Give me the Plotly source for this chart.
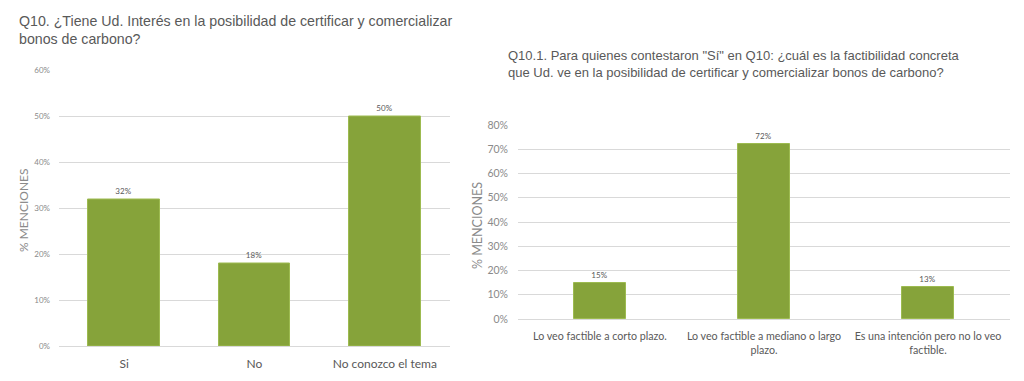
import plotly.graph_objects as go

# the page body has an 8px margin: the figure is sized to the rest of the window
OFF = 8
W, H = 1024 - OFF, 381 - OFF

# ---- data ----
cats_left = ["Si", "No", "No conozco el tema"]
vals_left = [32, 18, 50]
cats_right = ["Lo veo factible a corto plazo.",
              "Lo veo factible a mediano o largo<br>plazo.",
              "Es una intención pero no lo veo<br>factible."]
vals_right = [15, 72, 13]
ticks_left = [0, 10, 20, 30, 40, 50, 60]
ticks_right = [0, 10, 20, 30, 40, 50, 60, 70, 80]

title_left = "Q10. ¿Tiene Ud. Interés en la posibilidad de certificar y comercializar<br>bonos de carbono?"
title_right = ("Q10.1. Para quienes contestaron \"Sí\" en Q10: ¿cuál es la factibilidad concreta<br>"
               "que Ud. ve en la posibilidad de certificar y comercializar bonos de carbono?")

GREEN = "#86A33A"
GRID = "#d9d9d9"
TXT = "#595959"
LBL = "#8a8a8a"
FONT = "Lato"


def px(x):
    return (x - OFF) / W


def py(y):
    return 1 - (y - OFF) / H


fig = go.Figure()
fig.add_trace(go.Bar(x=cats_left, y=vals_left, xaxis="x", yaxis="y",
                     marker=dict(color=GREEN, line=dict(color="#9dbb50", width=1)),
                     width=0.55, text=[f"{v}%" for v in vals_left],
                     textposition="outside", cliponaxis=False,
                     textfont=dict(size=8, color=TXT, family=FONT)))
fig.add_trace(go.Bar(x=cats_right, y=vals_right, xaxis="x2", yaxis="y2",
                     marker=dict(color=GREEN, line=dict(color="#9dbb50", width=1)),
                     width=0.32, text=[f"{v}%" for v in vals_right],
                     textposition="outside", cliponaxis=False,
                     textfont=dict(size=8, color=TXT, family=FONT)))

fig.update_layout(
    template="none",
    width=W, height=H, autosize=False, margin=dict(l=0, r=0, t=0, b=0, pad=0),
    paper_bgcolor="white", plot_bgcolor="white", showlegend=False,
    bargap=0,
    xaxis=dict(domain=[px(59), px(450)], anchor="y", showgrid=False, automargin=False,
               showline=True, linecolor=GRID, linewidth=1, ticks="",
               tickfont=dict(size=12, color=TXT, family=FONT), ticklabelstandoff=7),
    yaxis=dict(domain=[py(346), py(70.5)], anchor="x", range=[0, 60], automargin=False,
               tickvals=ticks_left, ticktext=[f"{t}%" for t in ticks_left],
               showgrid=True, gridcolor=GRID, gridwidth=1, zeroline=False, showline=False,
               ticks="",
               tickfont=dict(size=8, color=LBL, family=FONT), ticklabelstandoff=8),
    xaxis2=dict(domain=[px(518), px(1010)], anchor="y2", showgrid=False, automargin=False,
                showline=True, linecolor=GRID, linewidth=1, ticks="",
                tickfont=dict(size=10.7, color=TXT, family=FONT), ticklabelstandoff=7),
    yaxis2=dict(domain=[py(319), py(125)], anchor="x2", range=[0, 80], automargin=False,
                tickvals=ticks_right, ticktext=[f"{t}%" for t in ticks_right],
                showgrid=True, gridcolor=GRID, gridwidth=1, zeroline=False, showline=False,
                ticks="",
                tickfont=dict(size=10.5, color=LBL, family=FONT), ticklabelstandoff=9),
    annotations=[
        dict(text=title_left, x=px(17), y=py(30), xref="paper", yref="paper",
             xanchor="left", yanchor="middle", align="left", showarrow=False,
             font=dict(size=14.2, color=TXT, family="Liberation Sans")),
        dict(text=title_right, x=px(506), y=py(64), xref="paper", yref="paper",
             xanchor="left", yanchor="middle", align="left", showarrow=False,
             font=dict(size=13, color=TXT, family="Liberation Sans")),
        dict(text="% MENCIONES", x=px(23), y=py(210), xref="paper", yref="paper",
             xanchor="center", yanchor="middle", textangle=-90, showarrow=False,
             font=dict(size=12, color=LBL, family=FONT)),
        dict(text="% MENCIONES", x=px(478), y=py(226), xref="paper", yref="paper",
             xanchor="center", yanchor="middle", textangle=-90, showarrow=False,
             font=dict(size=12.5, color=LBL, family=FONT)),
    ],
)

fig.write_html("out.html")
